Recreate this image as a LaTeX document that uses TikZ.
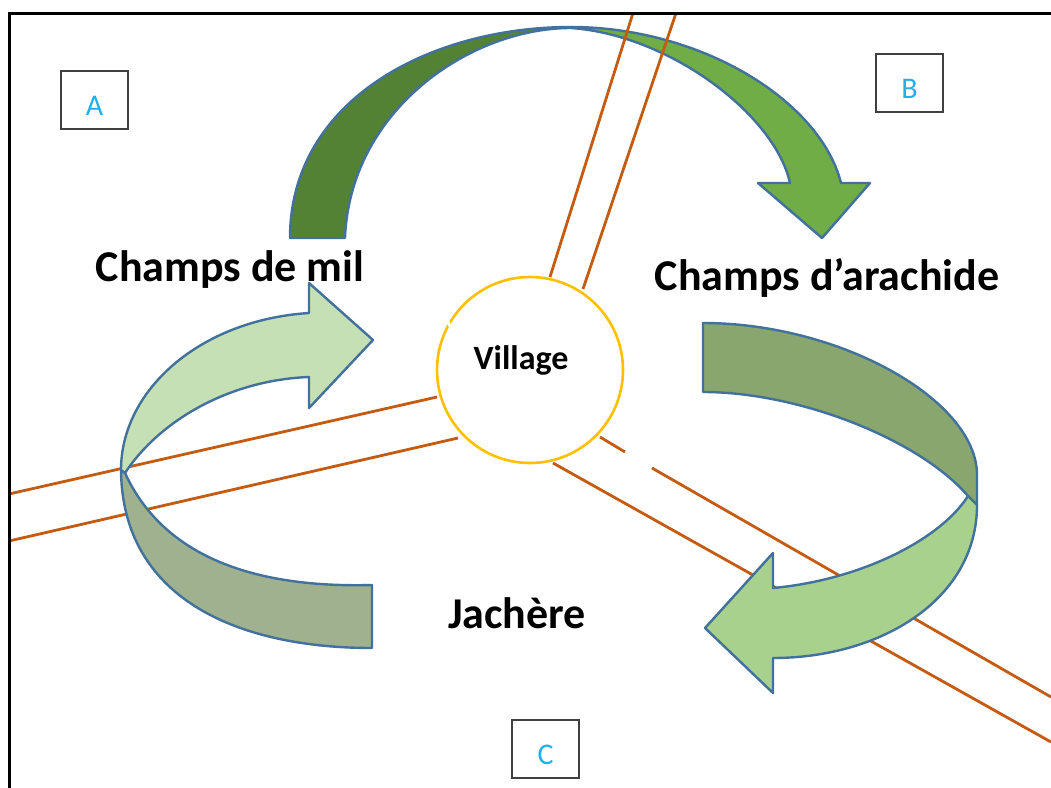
\documentclass[tikz,border=0pt]{standalone}
\usepackage{fontspec}
\setmainfont{Carlito}
\definecolor{outl}{HTML}{41719C}
\definecolor{topdark}{HTML}{548235}
\definecolor{toplight}{HTML}{70AD47}
\definecolor{lupper}{HTML}{C5E0B4}
\definecolor{llower}{HTML}{9FB18F}
\definecolor{rupper}{HTML}{88A66E}
\definecolor{rlower}{HTML}{A9D18E}
\definecolor{roadc}{HTML}{C55A11}
\definecolor{villc}{HTML}{FFC000}
\definecolor{letterc}{HTML}{1FB0F0}
\definecolor{boxc}{HTML}{404040}
\begin{document}
\begin{tikzpicture}[x=1pt,y=-1pt,
  band/.style={draw=outl, line width=2.4pt, line join=round},
  road/.style={draw=roadc, line width=2.8pt},
  biglabel/.style={anchor=base, inner sep=0pt, font=\fontsize{44}{50}\selectfont\bfseries},
  letterbox/.style={draw=boxc, line width=2pt, anchor=north west, inner sep=14pt,
     text height=30pt, text depth=0pt, minimum width=67pt, text=letterc,
     font=\fontsize{30}{34}\selectfont}]
\useasboundingbox (0,0) rectangle (1051,787);
\clip (0,0) rectangle (1051,787);
\fill[white] (0,0) rectangle (1051,787);

% top curved arrow
\filldraw[band, fill=topdark] (290,238) .. controls (290,100) and (430,27) .. (571,27)
  -- (571,28) .. controls (470,28) and (350,110) .. (345,238) -- cycle;
\filldraw[band, fill=toplight] (571,27) .. controls (700,27) and (820,100) .. (841,183)
  -- (870,183) -- (822,238) -- (758,183) -- (790,183)
  .. controls (775,115) and (670,35) .. (571,28) -- cycle;

% roads
\draw[road] (550,277) -- (633,13);
\draw[road] (583,289) -- (676,13);
\draw[road] (437,397) -- (9,494);
\draw[road] (458,438) -- (9,541);
\draw[road] (600,437) -- (625,452);
\draw[road] (652,468) -- (1051,697);
\draw[road] (553,463) -- (1051,742);

% left circular arrow
\filldraw[band, fill=llower] (121,468) .. controls (121,600) and (240,648) .. (372,648)
  -- (372,585) .. controls (260,588) and (165,560) .. (125,473) -- cycle;
\filldraw[band, fill=lupper] (309,313) .. controls (200,320) and (121,390) .. (121,470)
  -- (125,473) .. controls (160,420) and (230,380) .. (309,377)
  -- (309,408) -- (373,340) -- (309,283) -- cycle;

% right circular arrow
\filldraw[band, fill=rupper] (703,323) .. controls (840,323) and (977,400) .. (977,475)
  -- (977,505) -- (968,496) .. controls (920,440) and (800,392) .. (703,392) -- cycle;
\filldraw[band, fill=rlower] (968,496) .. controls (940,540) and (860,580) .. (773,588)
  -- (773,553) -- (705,628) -- (773,693) -- (773,658)
  .. controls (880,658) and (977,600) .. (977,505) -- cycle;

% village
\node[circle, draw=villc, fill=white, line width=2.6pt, minimum size=186pt, inner sep=0pt] (village) at (530,370) {};
\draw[white, line width=3pt] (447,319) -- (451,329);
\node[biglabel, font=\fontsize{34}{40}\selectfont\bfseries] (villagetxt) at (521,369) {Village};

% labels
\node[biglabel] (mil) at (230,281) {Champs de mil};
\node[biglabel] (arachide) at (827,290) {Champs d’arachide};
\node[biglabel] (jachere) at (517,628) {Jachère};

% boxes
\node[letterbox] (boxA) at (60,70) {A};
\node[letterbox] (boxB) at (875,53) {B};
\node[letterbox] (boxC) at (511,719) {C};

% frame
\draw[black, line width=3pt] (9,820) -- (9,13) -- (1080,13);
\end{tikzpicture}
\end{document}
